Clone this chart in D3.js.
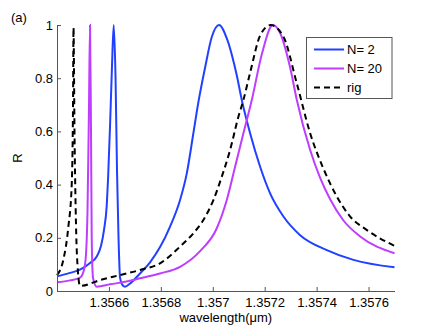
<!DOCTYPE html>
<html>
<head>
<meta charset="utf-8">
<script src="https://cdn.jsdelivr.net/npm/d3@7"></script>
<style>
  body { margin: 0; background: #fff; }
  svg { display: block; }
  text { font-family: "Liberation Sans", Arial, sans-serif; }
</style>
</head>
<body>
<svg id="chart" width="436" height="328"></svg>
<script>
// ---- data ----
const xTicks = [1.3566, 1.3568, 1.357, 1.3572, 1.3574, 1.3576];
const xTickLabels = ["1.3566", "1.3568", "1.357", "1.3572", "1.3574", "1.3576"];
const yTicks = [0, 0.2, 0.4, 0.6, 0.8, 1];
const yTickLabels = ["0", "0.2", "0.4", "0.6", "0.8", "1"];
const seriesNames = ["N= 2", "N= 20", "rig"];

const n2Wavelength = [1.3564000, 1.3564501, 1.3564886, 1.3565272, 1.3565530, 1.3565696, 1.3565811, 1.3565915, 1.3565966, 1.3566043, 1.3566120, 1.3566185, 1.3566255, 1.3566312, 1.3566370, 1.3566428, 1.3566505, 1.3566621, 1.3566813, 1.3567199, 1.3567584, 1.3567970, 1.3568355, 1.3568740, 1.3568999, 1.3569253, 1.3569446, 1.3569704, 1.3569962, 1.3570243, 1.3570540, 1.3570926, 1.3571118, 1.3571438, 1.3571824, 1.3572209, 1.3572722, 1.3573365, 1.3574394, 1.3575419, 1.3577000];
const n2R = [0.055, 0.068, 0.080, 0.105, 0.130, 0.170, 0.230, 0.320, 0.420, 0.620, 0.850, 1.000, 0.800, 0.450, 0.200, 0.050, 0.025, 0.016, 0.028, 0.066, 0.108, 0.165, 0.242, 0.342, 0.442, 0.593, 0.710, 0.840, 0.955, 1.000, 0.950, 0.810, 0.718, 0.593, 0.467, 0.367, 0.280, 0.210, 0.154, 0.117, 0.089];

const n20Wavelength = [1.3564000, 1.3564501, 1.3564886, 1.3565041, 1.3565118, 1.3565175, 1.3565233, 1.3565272, 1.3565310, 1.3565337, 1.3565387, 1.3565530, 1.3566043, 1.3566929, 1.3567199, 1.3567970, 1.3568740, 1.3569511, 1.3570155, 1.3570540, 1.3570860, 1.3571180, 1.3571504, 1.3571889, 1.3572313, 1.3572594, 1.3572980, 1.3573238, 1.3573751, 1.3574136, 1.3574521, 1.3575034, 1.3575678, 1.3577000];
const n20R = [0.033, 0.040, 0.050, 0.080, 0.140, 0.300, 0.700, 1.000, 0.600, 0.200, 0.050, 0.016, 0.025, 0.041, 0.048, 0.066, 0.091, 0.150, 0.236, 0.342, 0.467, 0.593, 0.718, 0.890, 1.000, 0.970, 0.840, 0.718, 0.530, 0.425, 0.345, 0.265, 0.205, 0.142];

const rigWavelength = [1.3564000, 1.3564243, 1.3564436, 1.3564567, 1.3564617, 1.3564636, 1.3564674, 1.3564732, 1.3564809, 1.3564886, 1.3565657, 1.3566428, 1.3567199, 1.3567970, 1.3568740, 1.3569253, 1.3569638, 1.3570024, 1.3570348, 1.3570667, 1.3570987, 1.3571180, 1.3571438, 1.3571824, 1.3572228, 1.3572722, 1.3573238, 1.3573751, 1.3574263, 1.3574780, 1.3575292, 1.3575936, 1.3577000];
const rigR = [0.060, 0.117, 0.240, 0.400, 0.700, 0.990, 0.600, 0.250, 0.070, 0.019, 0.041, 0.060, 0.079, 0.104, 0.167, 0.217, 0.267, 0.342, 0.430, 0.530, 0.655, 0.718, 0.820, 0.960, 1.000, 0.956, 0.780, 0.593, 0.460, 0.355, 0.280, 0.229, 0.170];

// ---- layout ----
const svg = d3.select("#chart");
const mLeft = 57, mRight = 394.5, mTop = 25, mBottom = 291;

const x = d3.scaleLinear().domain([1.3564, 1.3577]).range([mLeft, mRight]);
const y = d3.scaleLinear().domain([0, 1]).range([mBottom, mTop]);

const zip = (xs, ys) => xs.map((v, i) => [v, ys[i]]);
const series = [
  { name: seriesNames[0], data: zip(n2Wavelength, n2R), color: "#2140ff", dash: null },
  { name: seriesNames[1], data: zip(n20Wavelength, n20R), color: "#bf3dff", dash: null },
  { name: seriesNames[2], data: zip(rigWavelength, rigR), color: "#000000", dash: "6,4" }
];

const line = d3.line().x(d => x(d[0])).y(d => y(d[1])).curve(d3.curveMonotoneX);

const plot = svg.append("g");
series.forEach(s => {
  plot.append("path")
    .datum(s.data)
    .attr("fill", "none")
    .attr("stroke", s.color)
    .attr("stroke-width", 2)
    .attr("stroke-dasharray", s.dash)
    .attr("d", line);
});

// axes (MATLAB style, ticks inward)
const xAxis = d3.axisBottom(x).tickValues(xTicks)
  .tickFormat((d, i) => xTickLabels[i]).tickSizeInner(-4).tickSizeOuter(0).tickPadding(7);
const yAxis = d3.axisLeft(y).tickValues(yTicks)
  .tickFormat((d, i) => yTickLabels[i]).tickSizeInner(-4).tickSizeOuter(0).tickPadding(4);

const gx = svg.append("g").attr("transform", `translate(0,${mBottom})`).call(xAxis);
const gy = svg.append("g").attr("transform", `translate(${mLeft},0)`).call(yAxis);
[gx, gy].forEach(g => {
  g.select(".domain").attr("stroke", "#555").attr("stroke-width", 1);
  g.selectAll(".tick line").attr("stroke", "#555");
  g.selectAll(".tick text").attr("fill", "#000").style("font-size", "13px")
    .style("font-family", "'Liberation Sans', Arial, sans-serif");
});

// labels
svg.append("text").attr("x", (mLeft + mRight) / 2).attr("y", 322)
  .attr("text-anchor", "middle").style("font-size", "13px").text("wavelength(\u03bcm)");
svg.append("text").attr("transform", "translate(22,158) rotate(-90)")
  .attr("text-anchor", "middle").style("font-size", "13px").text("R");
svg.append("text").attr("x", 11).attr("y", 22).style("font-size", "13px").text("(a)");

// legend
const lg = svg.append("g");
lg.append("rect").attr("x", 306.5).attr("y", 37.5).attr("width", 85.5).attr("height", 61)
  .attr("fill", "#fff").attr("stroke", "#555").attr("stroke-width", 1);
series.forEach((s, i) => {
  const yy = 49.5 + i * 19;
  lg.append("line").attr("x1", 314).attr("x2", 344).attr("y1", yy).attr("y2", yy)
    .attr("stroke", s.color).attr("stroke-width", 2).attr("stroke-dasharray", s.dash);
  lg.append("text").attr("x", 347).attr("y", yy + 4.5).style("font-size", "13px").text(s.name);
});
</script>
</body>
</html>
